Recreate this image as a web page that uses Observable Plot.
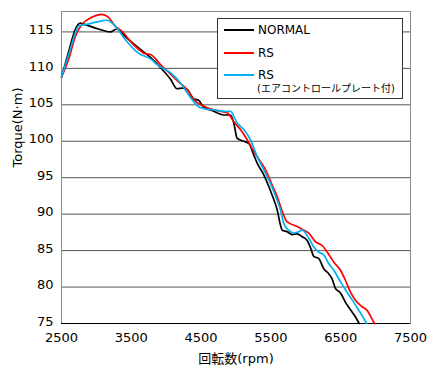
<!DOCTYPE html>
<html>
<head>
<meta charset="utf-8">
<script src="https://cdn.jsdelivr.net/npm/d3@7"></script>
<script src="https://cdn.jsdelivr.net/npm/@observablehq/plot@0.6"></script>
<style>
  body { margin: 0; background: #fff; }
  #wrap { position: relative; width: 440px; height: 378px; font-family: "DejaVu Sans", "Noto Sans CJK JP", sans-serif; }
  #legend { position: absolute; left: 217px; top: 18px; width: 186px; height: 81px; border: 1px solid #333; background: #fff; box-sizing: border-box; }
  .row { position: absolute; left: 6px; display: flex; align-items: center; font-size: 12px; color: #000; }
  .sw { width: 30px; height: 2px; margin-right: 4px; }
  .sub { position: absolute; left: 39px; top: 61px; font-size: 10px; color: #000; white-space: nowrap; }
</style>
</head>
<body>
<div id="wrap"></div>
<script>
const seriesNames = ["NORMAL", "RS", "RS"];
const seriesSub = ["", "", "(エアコントロールプレート付)"];
const seriesColors = ["#000000", "#ff0000", "#00b0f0"];

const normalRpm = [2500,2600,2700,2770,2840,3030,3200,3290,3410,3632,3775,3918,4062,4157,4230,4300,4395,4467,4540,4635,4825,4921,4968,5017,5112,5184,5255,5303,5398,5470,5518,5590,5637,5662,5733,5805,5877,5948,6020,6067,6115,6187,6258,6330,6378,6425,6497,6569,6640,6712,6765];
const normalTorque = [108.8,112.2,115.4,116.2,116.0,115.4,115.0,115.4,114.4,112.6,111.5,110.1,108.5,107.2,107.3,107.1,105.8,105.6,104.6,104.3,103.6,103.6,102.5,100.4,100.0,99.7,98.1,97.0,95.4,93.8,92.6,90.6,88.5,87.8,87.6,87.2,87.3,86.9,86.4,85.4,84.2,83.9,82.5,81.8,81.1,79.8,79.2,77.9,76.9,75.9,75.0];

const rsRpm = [2500,2600,2700,2790,2934,3077,3173,3270,3364,3507,3632,3700,3775,3918,4062,4157,4300,4395,4540,4730,4874,4968,5088,5160,5255,5351,5422,5518,5590,5662,5720,5757,5877,5971,6043,6139,6235,6306,6402,6497,6569,6640,6712,6807,6879,6950,6984];
const rsTorque = [108.8,111.2,114.4,116.0,117.0,117.4,117.0,115.8,115.1,113.5,112.4,112.0,111.9,110.5,109.2,108.3,107.1,105.7,104.8,104.2,103.9,102.7,101.3,100.2,98.6,97.2,96.1,94.0,92.4,90.4,89.1,88.8,88.3,87.8,87.4,86.2,85.7,84.8,83.4,82.3,80.9,79.3,78.2,77.3,76.8,75.6,75.0];

const rsAcpRpm = [2500,2600,2700,2745,2840,2980,3150,3270,3410,3600,3790,3870,4062,4205,4348,4490,4682,4874,4921,5017,5112,5208,5303,5398,5494,5590,5637,5685,5757,5828,5900,5948,6043,6115,6187,6258,6330,6402,6473,6545,6616,6688,6760,6831,6870];
const rsAcpTorque = [108.8,111.8,114.9,115.8,116.0,116.3,116.6,115.8,114.0,112.1,111.2,110.5,109.4,108.0,106.0,104.6,104.3,104.1,104.1,102.5,101.6,100.2,97.9,96.1,94.2,91.9,90.6,88.7,87.8,87.4,87.6,87.8,86.7,85.5,84.8,84.4,83.2,82.3,81.1,80.0,78.9,77.9,76.8,75.7,75.0];

const xTicks = [2500, 3500, 4500, 5500, 6500, 7500];
const yTicks = [75, 80, 85, 90, 95, 100, 105, 110, 115];
const gridTicks = [80, 85, 90, 95, 100, 105, 110, 115];
const xLabel = "回転数(rpm)";
const yLabel = "Torque(N·m)";

const toRows = (xs, ys, s) => xs.map((x, i) => ({rpm: x, torque: ys[i], s}));
const rows = [
  ...toRows(normalRpm, normalTorque, 0),
  ...toRows(rsRpm, rsTorque, 1),
  ...toRows(rsAcpRpm, rsAcpTorque, 2)
];

const chart = Plot.plot({
  width: 440,
  height: 378,
  marginLeft: 61,
  marginRight: 30,
  marginTop: 11,
  marginBottom: 55,
  style: {fontFamily: '"DejaVu Sans", "Noto Sans CJK JP", sans-serif', fontSize: "13px", color: "#000", background: "#fff"},
  x: {domain: [2500, 7500]},
  y: {domain: [75, 117.8]},
  marks: [
    Plot.gridY(gridTicks, {stroke: "#555", strokeOpacity: 1, strokeWidth: 1}),
    Plot.frame({stroke: "#888"}),
    Plot.ruleY([75], {stroke: "#000"}),
    Plot.axisX(xTicks, {tickSize: 0, tickPadding: 9, label: null, fontSize: 13, tickFormat: d => String(d)}),
    Plot.axisY(yTicks, {tickSize: 0, tickPadding: 8, label: null, fontSize: 13, dy: -2, tickFormat: d => String(d)}),
    Plot.line(rows, {x: "rpm", y: "torque", z: "s", stroke: d => seriesColors[d.s], strokeWidth: 1.7, curve: "monotone-x"}),
    Plot.text([xLabel], {frameAnchor: "bottom", dy: 39, fontSize: 13}),
    Plot.text([yLabel], {frameAnchor: "left", dx: -44, rotate: -90, fontSize: 13})
  ]
});

const wrap = document.getElementById("wrap");
wrap.appendChild(chart);

const legend = document.createElement("div");
legend.id = "legend";
const tops = [4, 27, 49];
seriesNames.forEach((name, i) => {
  const r = document.createElement("div");
  r.className = "row";
  r.style.top = tops[i] + "px";
  const sw = document.createElement("div");
  sw.className = "sw";
  sw.style.background = seriesColors[i];
  const t = document.createElement("span");
  t.textContent = name;
  r.appendChild(sw);
  r.appendChild(t);
  legend.appendChild(r);
  if (seriesSub[i]) {
    const s = document.createElement("div");
    s.className = "sub";
    s.textContent = seriesSub[i];
    legend.appendChild(s);
  }
});
wrap.appendChild(legend);
</script>
</body>
</html>
